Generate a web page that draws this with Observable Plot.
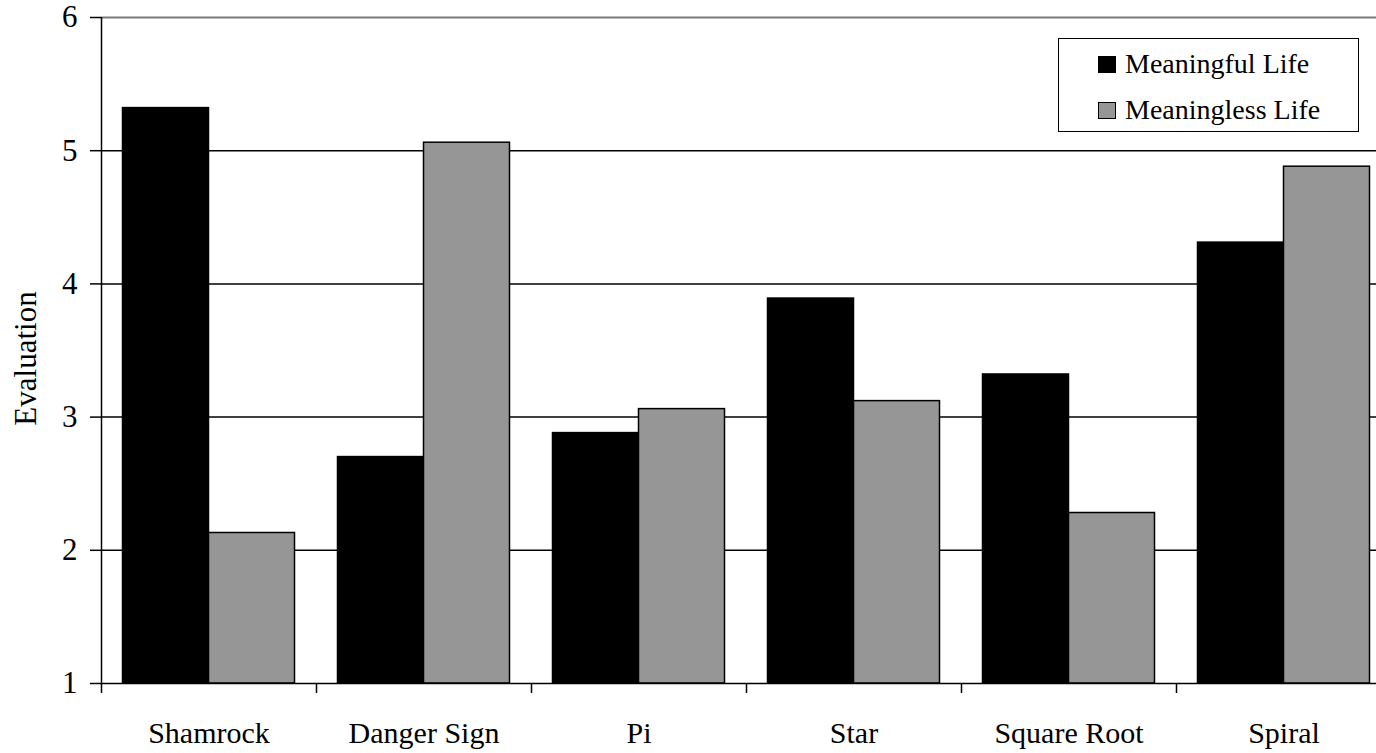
<!DOCTYPE html>
<html>
<head>
<meta charset="utf-8">
<script src="https://cdn.jsdelivr.net/npm/d3@7"></script>
<script src="https://cdn.jsdelivr.net/npm/@observablehq/plot@0.6"></script>
<style>
  html, body { margin: 0; padding: 0; background: #fff; overflow: hidden; }
  #wrap { position: relative; width: 1376px; height: 753px; overflow: hidden; }
  #chart svg { display: block; max-width: none; }
  #legend {
    position: absolute; left: 1058px; top: 38px; width: 299px; height: 92px;
    border: 1.5px solid #000; background: #fff;
    font-family: "Liberation Serif", "Times New Roman", serif; font-size: 28px; color: #000;
  }
  .item { position: absolute; left: 39px; display: flex; align-items: center; white-space: nowrap; }
  .sw { width: 18px; height: 17px; border: 1.2px solid #000; margin-right: 9px; box-sizing: border-box; }
</style>
</head>
<body>
<div id="wrap">
  <div id="chart"></div>
  <div id="legend"></div>
</div>
<script>
const categories = ["Shamrock", "Danger Sign", "Pi", "Star", "Square Root", "Spiral"];
const seriesNames = ["Meaningful Life", "Meaningless Life"];
const meaningful = [5.32, 2.70, 2.88, 3.89, 3.32, 4.31];
const meaningless = [2.13, 5.06, 3.06, 3.12, 2.28, 4.88];
const yTicks = [1, 2, 3, 4, 5, 6];
const gridTicks = [2, 3, 4, 5];
const seriesColors = ["#000000", "#969696"];

// grouped layout in category units: outer gap 0.1, each bar 0.4 of a category
const groupPad = 0.1, barW = 0.4;
const rows = categories.flatMap((c, i) =>
  [meaningful, meaningless].map((vals, s) => ({
    category: c, series: seriesNames[s],
    x1: i + groupPad + s * barW, x2: i + groupPad + (s + 1) * barW,
    base: yTicks[0], value: vals[i]
  }))
);
const boundaries = d3.range(0, categories.length + 1);
const centers = categories.map((c, i) => i + 0.5);

const chart = Plot.plot({
  width: 1376, height: 753,
  marginLeft: 101, marginRight: -15, marginTop: 17, marginBottom: 70,
  style: { fontFamily: "'Liberation Serif', 'Times New Roman', serif", fontSize: "30px", color: "#000", background: "#fff" },
  x: { domain: [0, categories.length] },
  y: { domain: [yTicks[0], yTicks[yTicks.length - 1]] },
  color: { domain: seriesNames, range: seriesColors },
  marks: [
    Plot.ruleY(gridTicks, { stroke: "#000", strokeWidth: 1.5 }),
    Plot.ruleY([yTicks[yTicks.length - 1]], { stroke: "#7a7a7a", strokeWidth: 2 }),
    Plot.rect(rows, { x1: "x1", x2: "x2", y1: "base", y2: "value", fill: "series", stroke: "#000", strokeWidth: 1.5 }),
    Plot.ruleX([0], { stroke: "#000", strokeWidth: 1.5 }),
    Plot.ruleY([yTicks[0]], { stroke: "#000", strokeWidth: 1.5 }),
    Plot.axisY({ ticks: yTicks, tickFormat: d3.format("d"), tickSize: 11, tickPadding: 13, fontSize: 31, strokeWidth: 1.5,
      label: null }),
    Plot.text(["Evaluation"], { frameAnchor: "left", rotate: -90, dx: -75, dy: 8, fontSize: 31, textAnchor: "middle" }),
    Plot.axisX({ ticks: boundaries, tickSize: 10, tickFormat: () => "", strokeWidth: 1.5, label: null }),
    Plot.axisX({ ticks: centers, tickSize: 0, tickPadding: 38, fontSize: 30,
      tickFormat: v => categories[Math.floor(v)], label: null })
  ]
});
document.getElementById("chart").appendChild(chart);

const legend = document.getElementById("legend");
seriesNames.forEach((name, s) => {
  const item = document.createElement("div");
  item.className = "item";
  item.style.top = (s === 0 ? 9 : 55) + "px";
  const sw = document.createElement("span");
  sw.className = "sw";
  sw.style.background = seriesColors[s];
  const t = document.createElement("span");
  t.textContent = name;
  item.appendChild(sw); item.appendChild(t);
  legend.appendChild(item);
});
</script>
</body>
</html>
